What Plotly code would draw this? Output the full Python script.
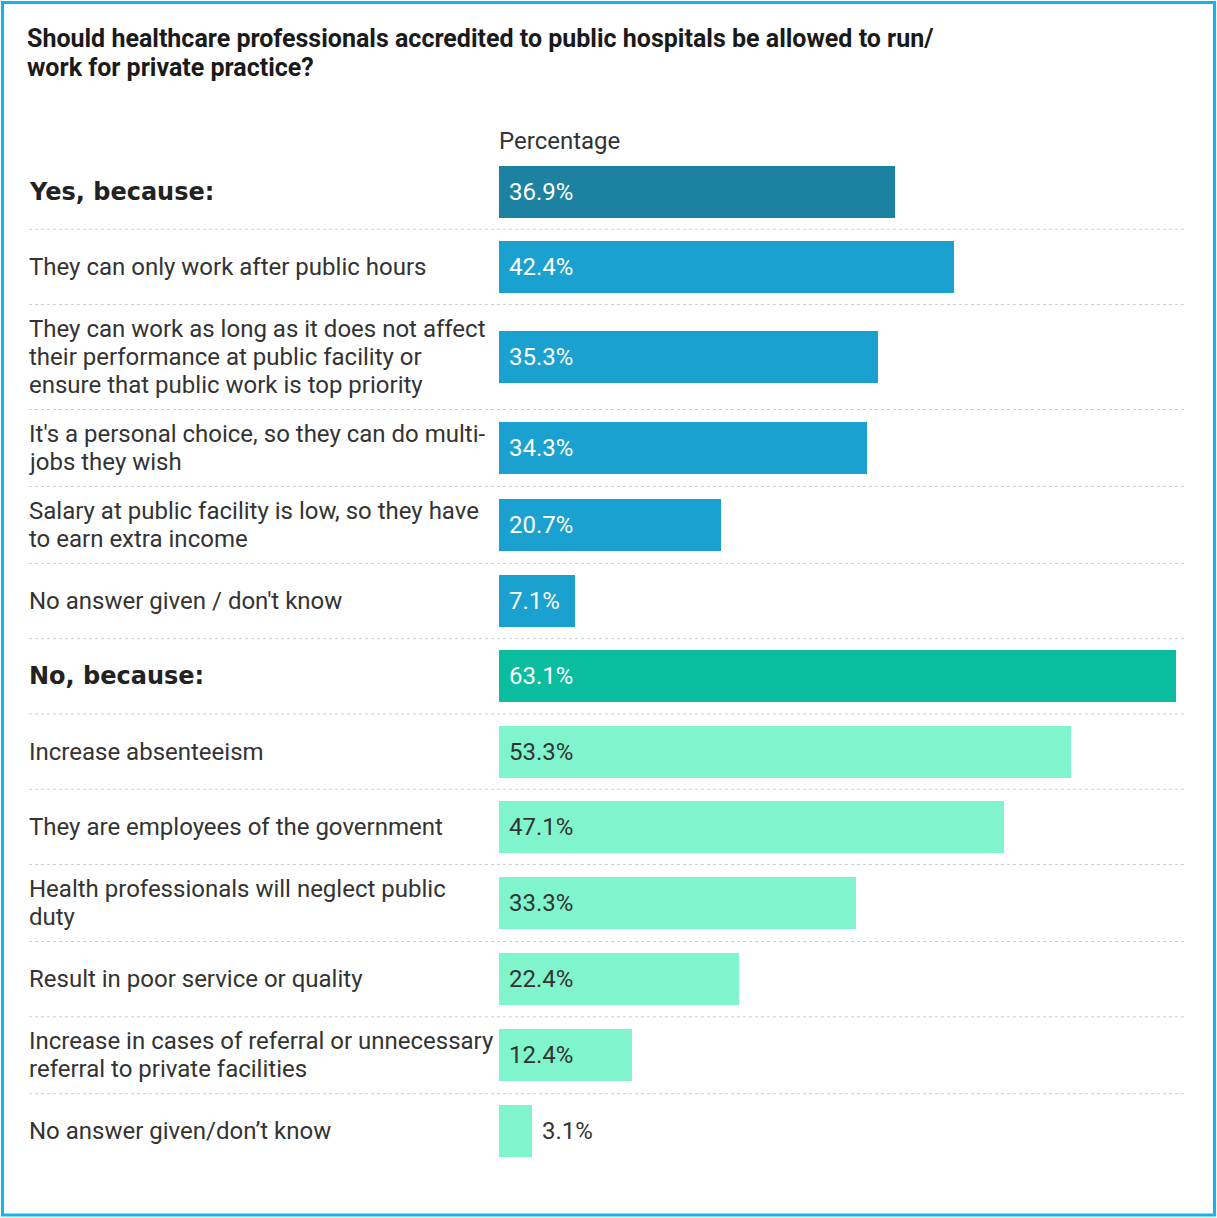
import plotly.graph_objects as go

# Survey answers, top to bottom (lines of each label separated by "\n")
labels = [
    "Yes, because:",
    "They can only work after public hours",
    "They can work as long as it does not affect\ntheir performance at public facility or\nensure that public work is top priority",
    "It's a personal choice, so they can do multi-\njobs they wish",
    "Salary at public facility is low, so they have\nto earn extra income",
    "No answer given / don't know",
    "No, because:",
    "Increase absenteeism",
    "They are employees of the government",
    "Health professionals will neglect public\nduty",
    "Result in poor service or quality",
    "Increase in cases of referral or unnecessary\nreferral to private facilities",
    "No answer given/don\u2019t know",
]
values = [36.9, 42.4, 35.3, 34.3, 20.7, 7.1, 63.1, 53.3, 47.1, 33.3, 22.4, 12.4, 3.1]
kinds = ["yes_total", "yes", "yes", "yes", "yes", "yes",
         "no_total", "no", "no", "no", "no", "no", "no"]

TITLE_LINES = [
    "Should healthcare professionals accredited to public hospitals be allowed to run/",
    "work for private practice?",
]

W, H = 1217, 1218
bar_color = {"yes_total": "#1d81a2", "yes": "#1aa1cf", "no_total": "#0abd9f", "no": "#80f5cd"}
val_color = {"yes_total": "#ffffff", "yes": "#ffffff", "no_total": "#ffffff", "no": "#333333"}

LINE_H = 28  # label line spacing in px

# Row geometry (pixel units on the y axis)
base_row = 75.3
row_h = [max(base_row, LINE_H * (lab.count("\n") + 1) + 21) for lab in labels]
tops = []
acc = 0.0
for h in row_h:
    tops.append(acc)
    acc += h
total = acc
centers = [t + h / 2 for t, h in zip(tops, row_h)]

m_l, m_r, m_t = 499, 33, 154
m_b = H - m_t - total
plot_w = W - m_l - m_r
plot_h = total
px_per_unit = 10.73
x_max = plot_w / px_per_unit


def px_x(px):
    return (px - m_l) / plot_w


def px_y(py):
    return 1 - (py - m_t) / plot_h


fig = go.Figure()
fig.add_trace(go.Bar(
    y=centers, x=values, orientation="h",
    width=52,
    marker=dict(color=[bar_color[k] for k in kinds], line=dict(width=0)),
    hoverinfo="skip",
))

annotations = []
for lab, v, k, c in zip(labels, values, kinds, centers):
    bold = k.endswith("total")
    lines = lab.split("\n")
    n = len(lines)
    for i, line in enumerate(lines):
        annotations.append(dict(
            xref="paper", yref="y", x=px_x(27), y=c + (i - (n - 1) / 2) * LINE_H,
            xanchor="left", yanchor="middle",
            text=f"<b>{line}</b>" if bold else line, showarrow=False, align="left",
            font=dict(family="DejaVu Sans" if bold else "Roboto",
                      size=24 if bold else 24, color="#222222" if bold else "#333333"),
        ))
    inside = v * px_per_unit > 70
    annotations.append(dict(
        xref="x", yref="y", x=0 if inside else v, y=c, xanchor="left", yanchor="middle",
        xshift=8, text=f"{v:.1f}%", showarrow=False,
        font=dict(family="Roboto", size=24, color=val_color[k] if inside else "#333333"),
    ))

annotations.append(dict(
    xref="paper", yref="paper", x=px_x(497), y=px_y(141), xanchor="left", yanchor="middle",
    text="Percentage", showarrow=False, font=dict(family="Roboto", size=24, color="#333333"),
))
for i, line in enumerate(TITLE_LINES):
    annotations.append(dict(
        xref="paper", yref="paper", x=px_x(25), y=px_y(38 + 29 * i),
        xanchor="left", yanchor="middle",
        text=f"<b>{line}</b>", showarrow=False, align="left",
        font=dict(family="Roboto", size=25, color="#1a1a1a", weight=900),
    ))

shapes = []
for t in tops[1:]:
    shapes.append(dict(
        type="line", xref="paper", yref="y", x0=px_x(29), x1=1, y0=t, y1=t,
        line=dict(color="#cfcfcf", width=1, dash="dot"), layer="below",
    ))
# outer frame
shapes.append(dict(
    type="rect", xref="paper", yref="paper",
    x0=px_x(2.5), x1=px_x(W - 2.5), y0=px_y(H - 2.5), y1=px_y(2.5),
    line=dict(color="#13b4ea", width=3), fillcolor="rgba(0,0,0,0)",
))

fig.update_layout(
    width=W, height=H,
    margin=dict(l=m_l, r=m_r, t=m_t, b=m_b),
    paper_bgcolor="white", plot_bgcolor="white",
    showlegend=False,
    xaxis=dict(range=[0, x_max], visible=False, fixedrange=True),
    yaxis=dict(range=[total, 0], visible=False, fixedrange=True),
    annotations=annotations, shapes=shapes,
    bargap=0,
)

fig.write_html("out.html")
